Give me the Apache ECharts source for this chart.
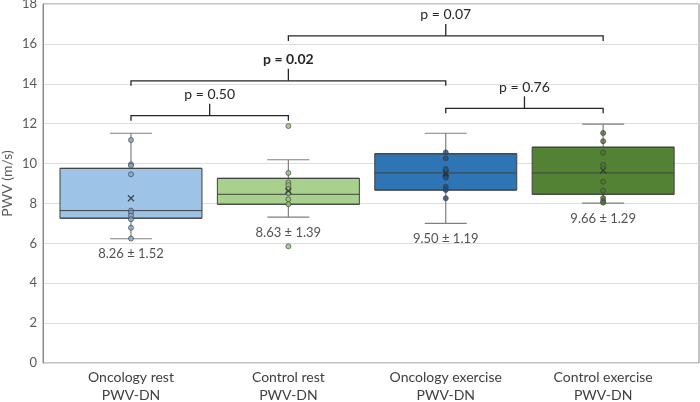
<!DOCTYPE html>
<html>
<head>
<meta charset="utf-8">
<script src="https://cdn.jsdelivr.net/npm/echarts@6/dist/echarts.min.js"></script>
<style>
html,body{margin:0;padding:0;background:#fff;}
#chart{width:700px;height:402px;}
</style>
</head>
<body>
<div id="chart"></div>
<script>
// ---- data ----
const categories = ['Oncology rest', 'Control rest', 'Oncology exercise', 'Control exercise'];
const categorySuffix = 'PWV-DN';
const whiskerMin = [6.23, 7.31, 7.00, 8.02];
const q1 = [7.26, 7.96, 8.67, 8.46];
const median = [7.64, 8.46, 9.53, 9.53];
const q3 = [9.76, 9.26, 10.49, 10.82];
const whiskerMax = [11.52, 10.19, 11.52, 11.98];
const means = [8.26, 8.63, 9.50, 9.66];
const sds = [1.52, 1.39, 1.19, 1.29];
const oncologyRestPoints = [11.18, 9.96, 9.89, 9.46, 7.64, 7.54, 7.39, 7.21, 6.78, 6.24];
const controlRestPoints = [11.88, 9.53, 9.06, 8.92, 8.72, 8.51, 8.21, 7.96, 5.85];
const oncologyExercisePoints = [10.56, 10.26, 9.73, 9.41, 9.29, 8.84, 8.67, 8.26];
const controlExercisePoints = [11.53, 11.12, 10.54, 9.94, 9.09, 8.64, 8.27, 8.12, 8.04];
const bracketFrom = [0, 0, 2, 1];
const bracketTo = [1, 2, 3, 3];
const bracketLevel = [12.40, 14.15, 12.77, 16.40];
const bracketLabel = ['p = 0.50', 'p = 0.02', 'p = 0.76', 'p = 0.07'];
const bracketBold = [false, true, false, false];
const yTicks = {min: 0, max: 18, interval: 2};

// ---- styles ----
const FONT = 'Lato, "Noto Sans", sans-serif';
const boxColors = ['#9DC3E6', '#A9D18E', '#2E75B6', '#548235'];
const pointColors = ['#7FA9D3', '#93C275', '#1F4E79', '#4A7530'];
const pointGroups = [oncologyRestPoints, controlRestPoints, oncologyExercisePoints, controlExercisePoints];

const boxData = categories.map((c, i) => ({
  value: [i, q1[i], q1[i], median[i], q3[i], q3[i]],
  itemStyle: {color: boxColors[i], borderColor: '#404040', borderWidth: 1}
}));
const whiskerData = categories.map((c, i) => [i, whiskerMin[i], q1[i], q3[i], whiskerMax[i]]);
const pointData = [];
pointGroups.forEach((g, i) => g.forEach(v => pointData.push({
  value: [i, v], itemStyle: {color: pointColors[i]}
})));
const meanData = categories.map((c, i) => [i, means[i]]);
const labelData = categories.map((c, i) => [i, whiskerMin[i]]);
const bracketData = bracketFrom.map((f, i) => [f, bracketTo[i], bracketLevel[i]]);

const chart = echarts.init(document.getElementById('chart'));
chart.setOption({
  animation: false,
  backgroundColor: '#fff',
  grid: {left: 43, right: 1, top: 4, bottom: 39, show: true, borderColor: '#8A8A8A', borderWidth: 1,
         containLabel: false, outerBoundsMode: 'none'},
  xAxis: {
    type: 'value', min: -0.559, max: 3.609,
    axisLine: {show: false}, axisTick: {show: false}, splitLine: {show: false},
    axisLabel: {
      customValues: [0, 1, 2, 3],
      formatter: v => categories[Math.round(v)] + '\n' + categorySuffix,
      fontFamily: FONT, fontSize: 14, lineHeight: 17.5, color: '#404040', margin: 6
    }
  },
  yAxis: {
    type: 'value', min: yTicks.min, max: yTicks.max, interval: yTicks.interval,
    name: 'PWV (m/s)', nameLocation: 'middle', nameGap: 29, nameMoveOverlap: false,
    nameTextStyle: {fontFamily: FONT, fontSize: 14, color: '#595959'},
    axisLine: {show: true, onZero: false, lineStyle: {color: '#8A8A8A'}},
    axisTick: {show: false},
    splitLine: {lineStyle: {color: '#DDDDDD', width: 1}},
    axisLabel: {fontFamily: FONT, fontSize: 13, color: '#595959', margin: 6}
  },
  series: [
    {
      type: 'custom', name: 'whiskers', data: whiskerData, z: 1,
      renderItem: (params, api) => {
        const x = api.value(0);
        const pMin = api.coord([x, api.value(1)]);
        const pQ1 = api.coord([x, api.value(2)]);
        const pQ3 = api.coord([x, api.value(3)]);
        const pMax = api.coord([x, api.value(4)]);
        const st = {stroke: '#7F7F7F', lineWidth: 1.2};
        const hw = 21;
        return {type: 'group', children: [
          {type: 'line', shape: {x1: pMin[0], y1: pMin[1], x2: pQ1[0], y2: pQ1[1]}, style: st},
          {type: 'line', shape: {x1: pQ3[0], y1: pQ3[1], x2: pMax[0], y2: pMax[1]}, style: st},
          {type: 'line', shape: {x1: pMin[0] - hw, y1: pMin[1], x2: pMin[0] + hw, y2: pMin[1]}, style: st},
          {type: 'line', shape: {x1: pMax[0] - hw, y1: pMax[1], x2: pMax[0] + hw, y2: pMax[1]}, style: st}
        ]};
      }
    },
    {
      type: 'boxplot', name: 'box', layout: 'horizontal', data: boxData,
      boxWidth: [142, 142], z: 2,
      itemStyle: {borderColor: '#404040', borderWidth: 1}
    },
    {
      type: 'scatter', name: 'points', data: pointData, symbol: 'circle', symbolSize: 5, z: 3,
      itemStyle: {borderColor: '#3A3A3A', borderWidth: 0.8}
    },
    {
      type: 'scatter', name: 'mean', data: meanData, z: 4,
      symbol: 'path://M0,0L10,10M10,0L0,10', symbolSize: 6,
      itemStyle: {color: 'none', borderColor: '#262626', borderWidth: 1.2}
    },
    {
      type: 'scatter', name: 'meanLabels', data: labelData, symbolSize: 0, z: 4,
      label: {
        show: true, position: 'bottom', distance: 9,
        formatter: p => means[p.dataIndex].toFixed(2) + ' \u00b1 ' + sds[p.dataIndex].toFixed(2),
        fontFamily: FONT, fontSize: 13, color: '#262626'
      }
    },
    {
      type: 'custom', name: 'brackets', data: bracketData, z: 5,
      renderItem: (params, api) => {
        const i = params.dataIndex;
        const a = api.coord([api.value(0), api.value(2)]);
        const b = api.coord([api.value(1), api.value(2)]);
        const mx = (a[0] + b[0]) / 2;
        const st = {stroke: '#262626', lineWidth: 1.3, fill: null};
        return {type: 'group', children: [
          {type: 'polyline', shape: {points: [[a[0], a[1] + 5], [a[0], a[1]], [b[0], b[1]], [b[0], b[1] + 5]]}, style: st},
          {type: 'line', shape: {x1: mx, y1: a[1], x2: mx, y2: a[1] - 12}, style: st},
          {type: 'text', x: mx, y: a[1] - 14, style: {
            text: bracketLabel[i], fill: '#262626', fontFamily: FONT, fontSize: 14,
            fontWeight: bracketBold[i] ? 'bold' : 'normal', align: 'center', verticalAlign: 'bottom'
          }}
        ]};
      }
    }
  ]
});
</script>
</body>
</html>
